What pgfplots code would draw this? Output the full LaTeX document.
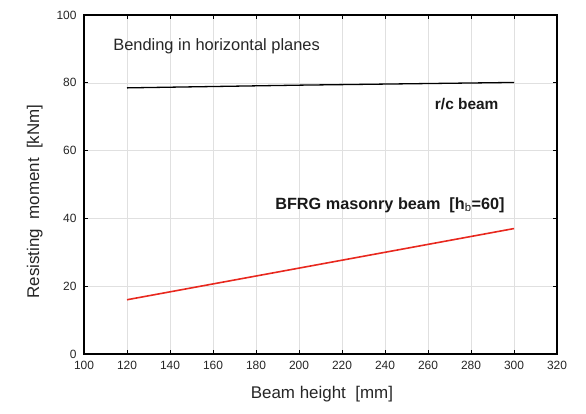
\documentclass[border=0pt]{standalone}
\usepackage{fontspec}
\setmainfont{Liberation Sans}
\usepackage{pgfplots}
\pgfplotsset{compat=1.18}
\definecolor{refred}{RGB}{232,40,30}
\begin{document}
\begin{tikzpicture}
\begin{axis}[
  scale only axis=true,
  width=473bp, height=339bp,
  xmin=100, xmax=320, ymin=0, ymax=100,
  xtick={100,120,...,320}, ytick={0,20,...,100},
  tick align=inside,
  major tick length=4bp,
  grid=major,
  grid style={draw=black!12, line width=0.5pt},
  axis line style={line width=1.1pt},
  tick style={line width=0.8pt, black},
  /pgf/number format/assume math mode=true,
  /pgf/number format/1000 sep={},
  ticklabel style={font=\fontsize{12}{14}\selectfont, text=black!85},
  xticklabel style={yshift=-4bp},
  yticklabel style={xshift=-4bp},
  xlabel={Beam height\ \ [mm]},
  ylabel={Resisting\ \ moment\ \ [kNm]},
  label style={font=\fontsize{17}{20}\selectfont, text=black!85},
  xlabel style={at={(axis description cs:0.503,-0.118)}, anchor=center},
  ylabel style={at={(axis description cs:-0.104,0.45)}, anchor=center, rotate=0},
  clip=false,
]
\addplot[black, line width=1.3pt] coordinates {(120,78.5) (200,79.3) (300,80.1)};
\addplot[refred, line width=1.6pt] coordinates {(120,16) (300,37)};
\node[anchor=west, font=\fontsize{16.5}{19}\selectfont, text=black!85] at (axis cs:112,90.9) {Bending in horizontal planes};
\node[font=\bfseries\fontsize{15.5}{18}\selectfont, text=black!90] at (axis cs:278,73.7) {r/c beam};
\node[font=\bfseries\fontsize{16.3}{18}\selectfont, text=black!90] at (axis cs:242.3,44) {BFRG masonry beam\ \ [h$_{\mathrm{b}}$=60]};
\path (rel axis cs:-0.1776,-0.177) rectangle (rel axis cs:1.0613,1.0442);
\end{axis}
\end{tikzpicture}
\end{document}
